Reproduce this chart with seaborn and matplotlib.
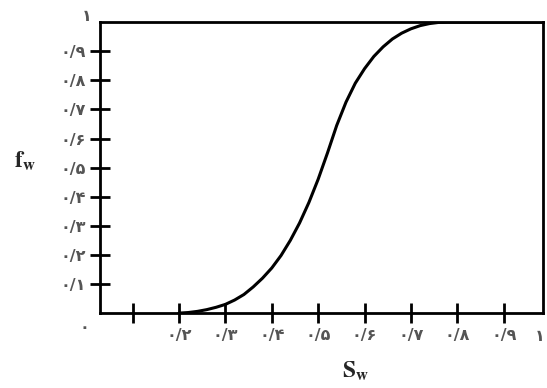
import matplotlib
matplotlib.use("Agg")
import matplotlib.pyplot as plt
import seaborn as sns
import pandas as pd

sns.set_theme(style="white")
plt.rcParams['font.family'] = ['DejaVu Sans']
plt.rcParams['mathtext.fontset'] = 'stix'

# Data (water saturation vs fractional flow)
sw = [0.20, 0.22, 0.24, 0.26, 0.28, 0.30, 0.32, 0.34, 0.36, 0.38, 0.40,
      0.42, 0.44, 0.46, 0.48, 0.50, 0.52, 0.54, 0.56, 0.58, 0.60, 0.62,
      0.64, 0.66, 0.68, 0.70, 0.72, 0.74, 0.76, 0.78, 0.985]
fw = [0.0, 0.002, 0.006, 0.012, 0.02, 0.03, 0.045, 0.064, 0.09, 0.12, 0.155,
      0.198, 0.25, 0.31, 0.38, 0.46, 0.55, 0.645, 0.725, 0.79, 0.84, 0.882,
      0.915, 0.942, 0.962, 0.977, 0.988, 0.995, 0.999, 1.0, 1.0]

x_ticks = [0.1, 0.2, 0.3, 0.4, 0.5, 0.6, 0.7, 0.8, 0.9]
x_labels = ["", "۰/۲", "۰/۳", "۰/۴", "۰/۵", "۰/۶", "۰/۷", "۰/۸", "۰/۹"]
y_ticks = [0.1, 0.2, 0.3, 0.4, 0.5, 0.6, 0.7, 0.8, 0.9]
y_labels = ["۰/۱", "۰/۲", "۰/۳", "۰/۴", "۰/۵", "۰/۶", "۰/۷", "۰/۸", "۰/۹"]

df = pd.DataFrame({"Sw": sw, "fw": fw})

fig = plt.figure(figsize=(5.47, 3.88), dpi=100)
ax = fig.add_axes([0.183, 0.193, 0.810, 0.750])
sns.lineplot(data=df, x="Sw", y="fw", ax=ax, color="black", linewidth=2.2)

ax.set_xlim(0.03, 0.985)
ax.set_ylim(0, 1)
for s in ax.spines.values():
    s.set_color("black")
    s.set_linewidth(2)

ax.set_xticks(x_ticks)
ax.set_xticklabels(x_labels)
ax.set_yticks(y_ticks)
ax.set_yticklabels(y_labels)
ax.tick_params(axis="both", which="major", bottom=True, left=True,
               direction="inout", length=15, width=2,
               color="black", labelsize=11.5, labelcolor="#555555")
ax.tick_params(axis="x", pad=3)
ax.tick_params(axis="y", pad=3)
for lab in ax.get_xticklabels() + ax.get_yticklabels():
    lab.set_fontweight("bold")
ax.set_xlabel("")
ax.set_ylabel("")

lab_kw = dict(ha="center", va="center", fontsize=11.5, color="#555555",
              fontweight="bold")
# corner labels
ax.text(-0.035, -0.05, "۰", transform=ax.transAxes, **lab_kw)
ax.text(-0.03, 1.02, "۱", transform=ax.transAxes, **lab_kw)
ax.text(0.993, -0.08, "۱", transform=ax.transAxes, **lab_kw)

# axis titles
fig.text(0.045, 0.585, r"$\mathbf{f}_{\mathbf{w}}$", fontsize=17, ha="center", va="center")
fig.text(0.65, 0.045, r"$\mathbf{S}_{\mathbf{w}}$", fontsize=17, ha="center", va="center")

fig.savefig("out.png", dpi=100)
